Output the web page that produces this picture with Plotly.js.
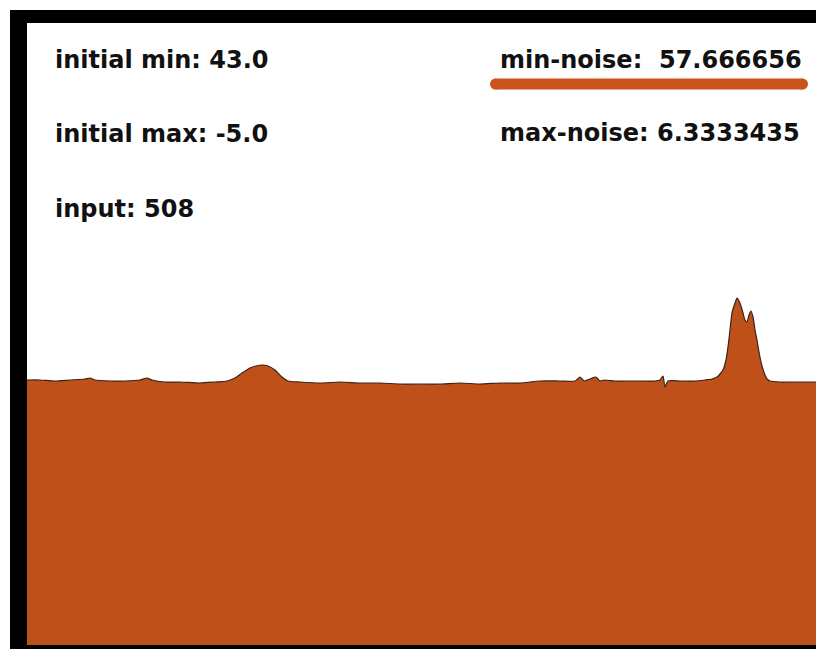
<!DOCTYPE html>
<html>
<head>
<meta charset="utf-8">
<script src="https://cdn.plot.ly/plotly-3.0.1.min.js"></script>
<style>
  html, body { margin: 0; padding: 0; background: #ffffff; }
  #chart { width: 816px; height: 649px; }
</style>
</head>
<body>
<div id="chart"></div>
<script>
// sample index along the signal
const samples = [0, 13, 28, 43, 58, 63, 68, 83, 98, 113, 120, 125, 138, 153, 173, 188, 200, 208, 215, 223, 229, 235, 241, 248, 255, 261, 273, 293, 313, 333, 353, 373, 393, 413, 433, 453, 473, 493, 513, 533, 548, 553, 557, 563, 569, 573, 577, 588, 603, 618, 628, 633, 636, 638, 641, 653, 668, 678, 685, 690, 693, 696, 699, 701, 703, 705, 708, 710, 712, 714, 716, 718, 720, 722, 724, 726, 728, 730, 732, 735, 738, 740, 743, 753, 763, 773, 789];
// amplitude of the signal
const amplitude = [265, 265, 264, 265, 266, 267, 265, 264, 264, 265, 267, 265, 263, 263, 262, 263, 264, 267, 272, 277, 279, 280, 279, 275, 268, 264, 263, 262, 263, 262, 262, 261, 261, 261, 262, 261, 262, 262, 264, 264, 264, 268, 264, 266, 268, 264, 265, 264, 264, 264, 264, 265, 269, 258, 264, 264, 264, 265, 266, 268, 271, 275, 285, 298, 315, 332, 342, 347, 344, 339, 332, 325, 323, 330, 334, 328, 315, 305, 293, 279, 270, 266, 264, 263, 263, 263, 263];

const labelsLeft = ["initial min: 43.0", "initial max: -5.0", "input: 508"];
const labelsRight = ["min-noise:  57.666656", "max-noise: 6.3333435"];

const W = 816, H = 649;
const px = v => v / W;
const py = v => 1 - v / H;

const fillColor = "#C05019";
const textFont = { family: "DejaVu Sans, Arial, sans-serif", size: 24, color: "#111111" };
const fontBold = Object.assign({}, textFont, { weight: "bold" });

const annotations = [];
const leftY = [60, 134, 209];
labelsLeft.forEach((t, i) => annotations.push({
  text: "<b>" + t + "</b>", xref: "paper", yref: "paper",
  x: px(53), y: py(leftY[i]), xanchor: "left", yanchor: "middle",
  showarrow: false, font: textFont
}));
const rightY = [60, 133];
labelsRight.forEach((t, i) => annotations.push({
  text: "<b>" + t.replace(/  /g, " &nbsp;") + "</b>", xref: "paper", yref: "paper",
  x: px(498), y: py(rightY[i]), xanchor: "left", yanchor: "middle",
  showarrow: false, font: textFont
}));

const shapes = [
  // black frame
  { type: "rect", xref: "paper", yref: "paper", x0: px(10), x1: px(27), y0: py(649), y1: py(10), fillcolor: "#000", line: { width: 0 }, layer: "above" },
  { type: "rect", xref: "paper", yref: "paper", x0: px(10), x1: px(816), y0: py(23), y1: py(10), fillcolor: "#000", line: { width: 0 }, layer: "above" },
  { type: "rect", xref: "paper", yref: "paper", x0: px(10), x1: px(816), y0: py(649), y1: py(645), fillcolor: "#000", line: { width: 0 }, layer: "above" },
  // orange underline under min-noise
  { type: "line", xref: "paper", yref: "paper", x0: px(495), x1: px(803), y0: py(84), y1: py(84), line: { color: "#C9541C", width: 11 } },
  { type: "circle", xref: "paper", yref: "paper", x0: px(490), x1: px(501), y0: py(89.5), y1: py(78.5), fillcolor: "#C9541C", line: { width: 0 } },
  { type: "circle", xref: "paper", yref: "paper", x0: px(797), x1: px(808), y0: py(89.5), y1: py(78.5), fillcolor: "#C9541C", line: { width: 0 } }
];

const trace = {
  x: samples, y: amplitude, type: "scatter", mode: "lines",
  fill: "tozeroy", fillcolor: fillColor,
  line: { color: "#3a2418", width: 1.2, shape: "spline", smoothing: 0.6 },
  hoverinfo: "skip"
};

const layout = {
  width: W, height: H,
  margin: { l: 0, r: 0, t: 0, b: 0, pad: 0 },
  paper_bgcolor: "#ffffff", plot_bgcolor: "#ffffff",
  showlegend: false,
  xaxis: { domain: [27 / W, 1], range: [0, 789], visible: false, fixedrange: true },
  yaxis: { domain: [4 / H, 1 - 23 / H], range: [0, 622], visible: false, fixedrange: true },
  annotations: annotations,
  shapes: shapes
};

Plotly.newPlot("chart", [trace], layout, { staticPlot: true, displayModeBar: false });
</script>
</body>
</html>
